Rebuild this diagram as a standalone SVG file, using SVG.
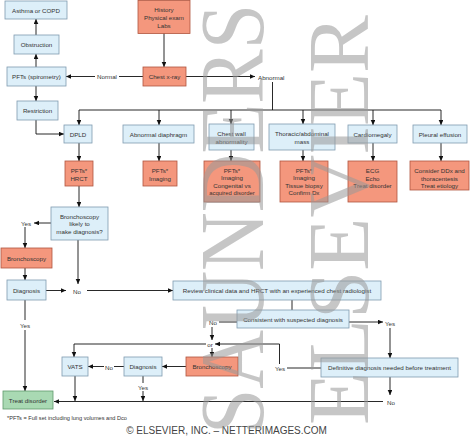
<svg xmlns="http://www.w3.org/2000/svg" width="475" height="439" viewBox="0 0 475 439">
<style>
.b{fill:#ddeff9;stroke:#7f9bb0;stroke-width:0.8}
.s{fill:#f4977d;stroke:#b0553f;stroke-width:0.8}
.g{fill:#a9d9b3;stroke:#5f9a6c;stroke-width:0.8}
text{font-family:"Liberation Sans",Arial,sans-serif;font-size:6.2px;fill:#333;text-anchor:middle;dominant-baseline:central}
.l{text-anchor:start}
.c line,.c path{stroke:#111;stroke-width:0.9;fill:none}
.a{marker-end:url(#ah)}
.wm{font-family:"Liberation Serif","Times New Roman",serif;fill:#999;opacity:0.55;text-anchor:start;dominant-baseline:alphabetic}
</style>
<defs>
<marker id="ah" markerUnits="userSpaceOnUse" markerWidth="6" markerHeight="6" refX="5" refY="2.3" orient="auto">
<path d="M0,0 L5,2.3 L0,4.6 z" fill="#111"/>
</marker>
</defs>
<rect width="475" height="439" fill="#fff"/>
<g id="connectors" class="c">
<line class="a" x1="36" y1="35" x2="36" y2="19"/>
<line class="a" x1="36" y1="67" x2="36" y2="54"/>
<line class="a" x1="36" y1="86" x2="36" y2="101"/>
<path class="a" d="M36,120 V134 H64"/>
<line class="a" x1="164" y1="33" x2="164" y2="67"/>
<line x1="143" y1="76.5" x2="119" y2="76.5"/>
<line class="a" x1="95" y1="76.5" x2="66" y2="76.5"/>
<line class="a" x1="186" y1="76.5" x2="255" y2="76.5"/>
<line x1="272.5" y1="82" x2="272.5" y2="110"/>
<line x1="79" y1="110" x2="441" y2="110"/>
<line class="a" x1="79" y1="110" x2="79" y2="125"/>
<line class="a" x1="159" y1="110" x2="159" y2="125"/>
<line class="a" x1="231" y1="110" x2="231" y2="124"/>
<line class="a" x1="303" y1="110" x2="303" y2="124"/>
<line class="a" x1="373" y1="110" x2="373" y2="125"/>
<line class="a" x1="441" y1="110" x2="441" y2="125"/>
<line class="a" x1="79" y1="143" x2="79" y2="161"/>
<line class="a" x1="159" y1="143" x2="159" y2="161"/>
<line class="a" x1="231" y1="150" x2="231" y2="161"/>
<line class="a" x1="303" y1="150" x2="303" y2="161"/>
<line class="a" x1="373" y1="143" x2="373" y2="161"/>
<line class="a" x1="441" y1="143" x2="441" y2="161"/>
<line class="a" x1="79" y1="186" x2="79" y2="207"/>
<line class="a" x1="51" y1="223" x2="34" y2="223"/>
<line class="a" x1="25" y1="227" x2="25" y2="248"/>
<line class="a" x1="25" y1="268" x2="25" y2="280"/>
<line class="a" x1="46" y1="290.5" x2="66" y2="290.5"/>
<line class="a" x1="87" y1="290.5" x2="173" y2="290.5"/>
<line class="a" x1="78" y1="240" x2="78" y2="284"/>
<line x1="25" y1="300" x2="25" y2="320"/>
<line class="a" x1="25" y1="330" x2="25" y2="391"/>
<line x1="292" y1="300" x2="292" y2="310"/>
<line class="a" x1="349" y1="322" x2="383" y2="322"/>
<line class="a" x1="390" y1="328" x2="390" y2="358"/>
<line x1="237" y1="322" x2="219" y2="322"/>
<line class="a" x1="212" y1="327" x2="212" y2="340"/>
<path class="a" d="M206,344 H74 V357"/>
<line class="a" x1="212" y1="348" x2="212" y2="357"/>
<line x1="287" y1="368" x2="321" y2="368"/>
<path class="a" d="M279.5,364 V344 H215"/>
<line class="a" x1="186" y1="366.5" x2="162" y2="366.5"/>
<line x1="124" y1="366.5" x2="114" y2="366.5"/>
<line class="a" x1="104" y1="366.5" x2="88" y2="366.5"/>
<line class="a" x1="75" y1="376" x2="75" y2="401"/>
<line x1="143" y1="376" x2="143" y2="383"/>
<line class="a" x1="143" y1="391" x2="143" y2="401"/>
<line class="a" x1="390" y1="377" x2="390" y2="395"/>
<line class="a" x1="383" y1="401.5" x2="54" y2="401.5"/>
</g>
<g id="labels">
<text x="107" y="76.5">Normal</text>
<text class="l" x="258" y="77">Abnormal</text>
<text x="26" y="223">Yes</text>
<text x="77" y="291">No</text>
<text x="25" y="325">Yes</text>
<text class="l" x="385" y="323">Yes</text>
<text x="213" y="322">No</text>
<text x="210" y="344">or</text>
<text x="280" y="368.5">Yes</text>
<text x="109" y="367">No</text>
<text x="143" y="387">Yes</text>
<text x="391" y="402.5">No</text>
</g>
<g id="asthma"><rect class="b" x="5" y="1" width="62" height="18"/><text x="36" y="10">Asthma or COPD</text></g>
<g id="obstruction"><rect class="b" x="14" y="35" width="45" height="19"/><text x="36.5" y="44.5">Obstruction</text></g>
<g id="pfts-spirometry"><rect class="b" x="7" y="67" width="59" height="19"/><text x="36.5" y="76.5">PFTs (spirometry)</text></g>
<g id="restriction"><rect class="b" x="17" y="101" width="41" height="19"/><text x="37.5" y="110.5">Restriction</text></g>
<g id="history"><rect class="s" x="138" y="0.5" width="52" height="33"/><text x="164" y="9">History</text><text x="164" y="17">Physical exam</text><text x="164" y="25">Labs</text></g>
<g id="chest-xray"><rect class="s" x="143" y="67" width="43" height="19"/><text x="164.5" y="76.5">Chest x-ray</text></g>
<g id="dpld"><rect class="b" x="64" y="125" width="28" height="18"/><text x="78" y="134">DPLD</text></g>
<g id="abnormal-diaphragm"><rect class="b" x="123" y="125" width="71" height="18"/><text x="158.5" y="134">Abnormal diaphragm</text></g>
<g id="chest-wall"><rect class="b" x="209" y="124" width="45" height="26"/><text x="231.5" y="133">Chest wall</text><text x="231.5" y="141">abnormality</text></g>
<g id="thoracic-mass"><rect class="b" x="269" y="124" width="66" height="26"/><text x="302" y="133">Thoracic/abdominal</text><text x="302" y="141">mass</text></g>
<g id="cardiomegaly"><rect class="b" x="348" y="125" width="49" height="18"/><text x="372.5" y="134">Cardiomegaly</text></g>
<g id="pleural-effusion"><rect class="b" x="413" y="125" width="54" height="18"/><text x="440" y="134">Pleural effusion</text></g>
<g id="pfts-hrct"><rect class="s" x="65" y="161" width="28" height="25"/><text x="79" y="170.5">PFTs*</text><text x="79" y="178">HRCT</text></g>
<g id="pfts-imaging"><rect class="s" x="143" y="161" width="34" height="25"/><text x="160" y="170.5">PFTs*</text><text x="160" y="178">Imaging</text></g>
<g id="chest-wall-workup"><rect class="s" x="204" y="161" width="56" height="41"/><text x="232" y="170.3">PFTs*</text><text x="232" y="177.8">Imaging</text><text x="232" y="185.3">Congenital vs</text><text x="232" y="192.8" style="font-size:5.9px">acquired disorder</text></g>
<g id="mass-workup"><rect class="s" x="280" y="161" width="48" height="41"/><text x="304" y="170.3">PFTs*</text><text x="304" y="177.8">Imaging</text><text x="304" y="185.3">Tissue biopsy</text><text x="304" y="192.8">Confirm Dx</text></g>
<g id="cardio-workup"><rect class="s" x="348" y="161" width="49" height="41"/><text x="372.5" y="170.8">ECG</text><text x="372.5" y="178.3">Echo</text><text x="372.5" y="185.8">Treat disorder</text></g>
<g id="pleural-workup"><rect class="s" x="410" y="161" width="59" height="29"/><text x="439.5" y="170.8">Consider DDx and</text><text x="439.5" y="178.3">thoracentesis</text><text x="439.5" y="185.8">Treat etiology</text></g>
<g id="bronch-likely"><rect class="b" x="51" y="207" width="57" height="33"/><text x="79.5" y="216">Bronchoscopy</text><text x="79.5" y="223.5">likely to</text><text x="79.5" y="231">make diagnosis?</text></g>
<g id="bronchoscopy-1"><rect class="s" x="1" y="248" width="51" height="20"/><text x="26.5" y="258">Bronchoscopy</text></g>
<g id="diagnosis-1"><rect class="b" x="7" y="280" width="39" height="20"/><text x="26.5" y="290">Diagnosis</text></g>
<g id="review"><rect class="b" x="173" y="281" width="208" height="19"/><text x="277" y="290.5">Review clinical data and HRCT with an experienced chest radiologist</text></g>
<g id="consistent"><rect class="b" x="237" y="310" width="112" height="18"/><text x="293" y="319">Consistent with suspected diagnosis</text></g>
<g id="definitive"><rect class="b" x="321" y="358" width="137" height="19"/><text x="389.5" y="367.5">Definitive diagnosis needed before treatment</text></g>
<g id="bronchoscopy-2"><rect class="s" x="186" y="357" width="52" height="19"/><text x="212" y="366.5">Bronchoscopy</text></g>
<g id="diagnosis-2"><rect class="b" x="124" y="357" width="38" height="19"/><text x="143" y="366.5">Diagnosis</text></g>
<g id="vats"><rect class="b" x="62" y="357" width="26" height="19"/><text x="75" y="366.5">VATS</text></g>
<g id="treat-disorder"><rect class="g" x="3" y="391" width="50" height="18"/><text x="28" y="400">Treat disorder</text></g>
<text class="l" x="7" y="418" style="font-size:5.6px">*PFTs = Full set including lung volumes and Dco</text>
<text x="226.5" y="430" style="font-size:10px;fill:#444">© ELSEVIER, INC. – NETTERIMAGES.COM</text>
<g id="watermark">
<text class="wm" transform="translate(263,434) rotate(-90)" x="0" y="0" style="font-size:92px" textLength="430" lengthAdjust="spacingAndGlyphs">SAUNDERS</text>
<text class="wm" transform="translate(368,425) rotate(-90)" x="0" y="0" style="font-size:86px" textLength="410" lengthAdjust="spacingAndGlyphs">ELSEVIER</text>
</g>
</svg>
